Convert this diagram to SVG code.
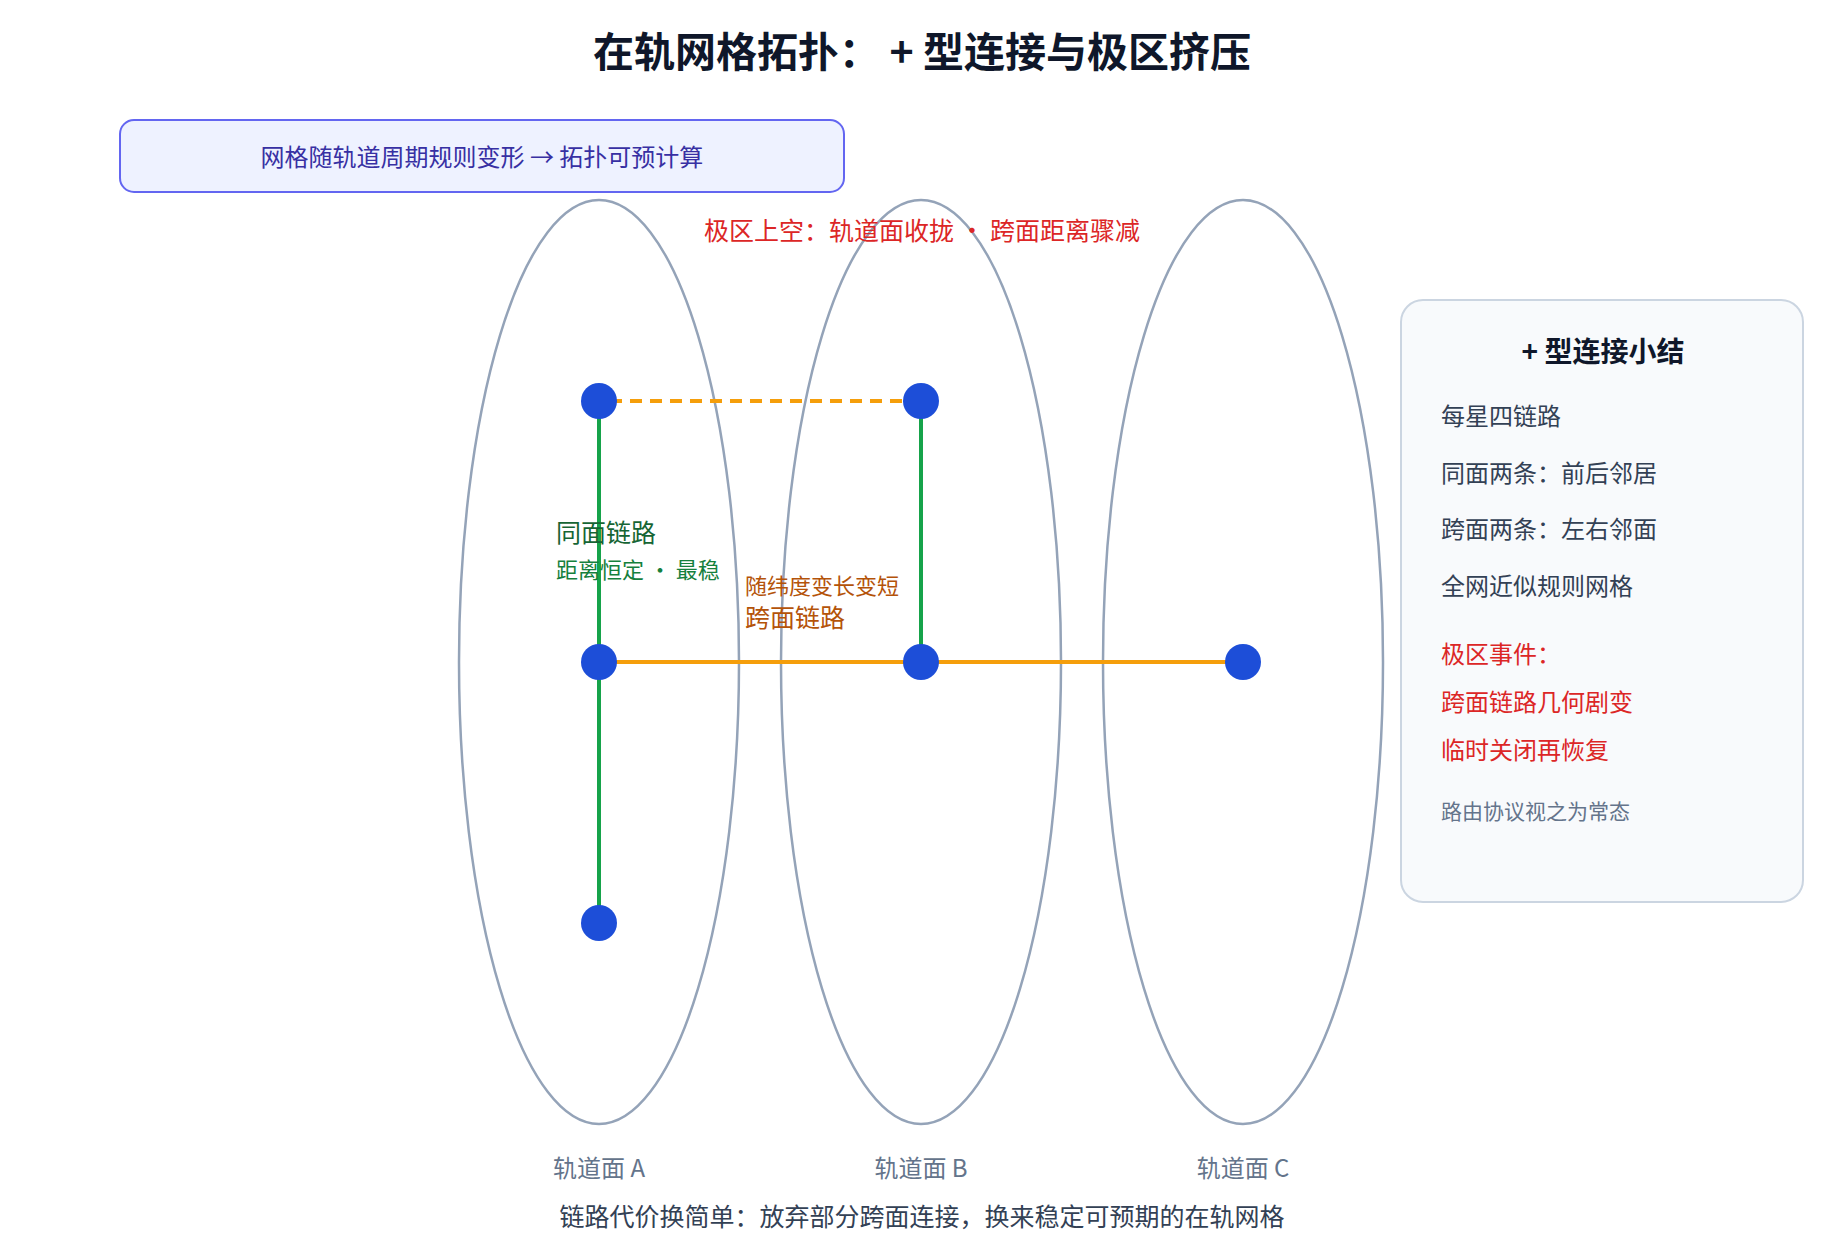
<svg xmlns="http://www.w3.org/2000/svg" width="1840" height="1240" viewBox="0 0 1840 1240">
<style>
text{font-family:"Noto Sans CJK SC","Liberation Sans",sans-serif}
.orb{fill:none;stroke:#94a3b8;stroke-width:2.5}
.sat{fill:#1d4ed8}
.g{stroke:#16a34a;stroke-width:4}
.o{stroke:#f59e0b;stroke-width:4}
.lbl{font-size:24px;fill:#64748b;text-anchor:middle}
.p{font-size:24px;fill:#334155}
.r{font-size:24px;fill:#dc2626}
</style>
<rect width="1840" height="1240" fill="#fff"/>
<text x="922" y="67" font-size="41" font-weight="bold" fill="#0f172a" text-anchor="middle">在轨网格拓扑： + 型连接与极区挤压</text>
<g id="note"><rect x="120" y="120" width="724" height="72" rx="14" fill="#eef2ff" stroke="#6366f1" stroke-width="2"/>
<text x="482" y="166" font-size="24" fill="#3730a3" text-anchor="middle">网格随轨道周期规则变形 → 拓扑可预计算</text></g>
<g id="orbitA"><ellipse class="orb" cx="599" cy="662" rx="140" ry="462"/><text class="lbl" x="599" y="1177">轨道面 A</text></g>
<g id="orbitB"><ellipse class="orb" cx="921" cy="662" rx="140" ry="462"/><text class="lbl" x="921" y="1177">轨道面 B</text></g>
<g id="orbitC"><ellipse class="orb" cx="1243" cy="662" rx="140" ry="462"/><text class="lbl" x="1243" y="1177">轨道面 C</text></g>
<text x="922" y="240" font-size="25" fill="#dc2626" text-anchor="middle">极区上空：轨道面收拢 · 跨面距离骤减</text>
<g id="connectors">
<line class="o" x1="610" y1="401" x2="909" y2="401" stroke-dasharray="12,8"/>
<line class="o" x1="599" y1="662" x2="1243" y2="662"/>
<line class="g" x1="599" y1="401" x2="599" y2="923"/>
<line class="g" x1="921" y1="401" x2="921" y2="662"/>
</g>
<g id="labels">
<text x="556" y="542" font-size="25" fill="#166534">同面链路</text>
<text x="556" y="578" font-size="22" fill="#15803d">距离恒定 · 最稳</text>
<text x="745" y="594" font-size="22" fill="#b45309">随纬度变长变短</text>
<text x="745" y="627" font-size="25" fill="#b45309">跨面链路</text>
</g>
<g id="sat1"><circle class="sat" cx="599" cy="401" r="18"/></g>
<g id="sat2"><circle class="sat" cx="921" cy="401" r="18"/></g>
<g id="sat3"><circle class="sat" cx="599" cy="662" r="18"/></g>
<g id="sat4"><circle class="sat" cx="921" cy="662" r="18"/></g>
<g id="sat5"><circle class="sat" cx="1243" cy="662" r="18"/></g>
<g id="sat6"><circle class="sat" cx="599" cy="923" r="18"/></g>
<g id="panel">
<rect x="1401" y="300" width="402" height="602" rx="22" fill="#f8fafc" stroke="#cbd5e1" stroke-width="2"/>
<text x="1603" y="362" font-size="28" font-weight="bold" fill="#0f172a" text-anchor="middle">+ 型连接小结</text>
<text class="p" x="1441" y="425">每星四链路</text>
<text class="p" x="1441" y="482">同面两条：前后邻居</text>
<text class="p" x="1441" y="538">跨面两条：左右邻面</text>
<text class="p" x="1441" y="595">全网近似规则网格</text>
<text class="r" x="1441" y="663">极区事件：</text>
<text class="r" x="1441" y="711">跨面链路几何剧变</text>
<text class="r" x="1441" y="759">临时关闭再恢复</text>
<text x="1441" y="819" font-size="21" fill="#64748b">路由协议视之为常态</text>
</g>
<text x="922" y="1226" font-size="25" fill="#334155" text-anchor="middle">链路代价换简单：放弃部分跨面连接，换来稳定可预期的在轨网格</text>
</svg>
